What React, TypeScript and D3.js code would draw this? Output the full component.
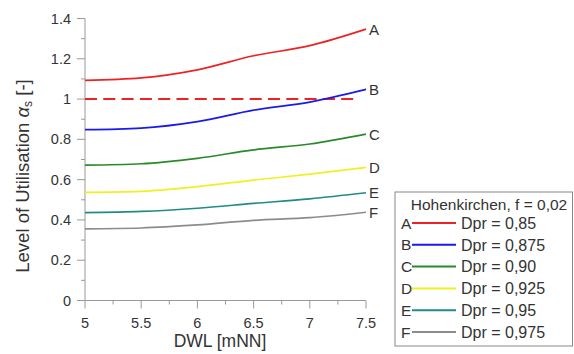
import React from "react";
import * as d3 from "d3";

const dwl = [5, 5.5, 6, 6.5, 7, 7.5];
const seriesA = [1.093, 1.105, 1.145, 1.215, 1.265, 1.347];
const seriesB = [0.848, 0.856, 0.888, 0.945, 0.985, 1.048];
const seriesC = [0.672, 0.679, 0.706, 0.748, 0.777, 0.826];
const seriesD = [0.537, 0.542, 0.565, 0.598, 0.627, 0.661];
const seriesE = [0.436, 0.442, 0.458, 0.482, 0.505, 0.535];
const seriesF = [0.356, 0.36, 0.375, 0.398, 0.411, 0.438];
const letters = ["A", "B", "C", "D", "E", "F"];
const dprLabels = ["0,85", "0,875", "0,90", "0,925", "0,95", "0,975"];
const colors = ["#ee2222", "#1a1aee", "#2a8a2a", "#f0f020", "#238b85", "#8c8c8c"];
const refLine = { value: 1.0, x0: 5, x1: 7.42 };
const xTicks = [5, 5.5, 6, 6.5, 7, 7.5];
const yTicks = [0, 0.2, 0.4, 0.6, 0.8, 1, 1.2, 1.4];
const legendTitle = "Hohenkirchen, f = 0,02";

const W = 574;
const H = 354;
const FONT = "'Liberation Sans', Arial, sans-serif";
const TXT = "#333";
const AX = "#999";

export default function App() {
  const x = d3.scaleLinear().domain([5, 7.5]).range([85, 366]);
  const y = d3.scaleLinear().domain([0, 1.4]).range([300.5, 18.5]);
  const all = [seriesA, seriesB, seriesC, seriesD, seriesE, seriesF];
  const line = d3
    .line<number>()
    .x((_, i) => x(dwl[i]))
    .y((d) => y(d))
    .curve(d3.curveMonotoneX);

  const xMinor = d3.range(5, 7.5001, 0.25);
  const yMinor = d3.range(0, 1.4001, 0.1);

  const legX = 395;
  const legY = 192;
  const rowY = (i: number) => 223 + i * 21.8;

  return (
    <svg
      width={W}
      height={H}
      style={{ position: "absolute", left: 0, top: 0, background: "#fff" }}
      fontFamily={FONT}
    >
      <rect width={W} height={H} fill="#fff" />
      {/* axes */}
      <line x1={85} x2={85} y1={y(1.4)} y2={y(0)} stroke={AX} strokeWidth={1} />
      <line x1={85} x2={366} y1={y(0)} y2={y(0)} stroke={AX} strokeWidth={1} />
      {yMinor.map((v, i) => (
        <line
          key={"ym" + i}
          x1={85}
          x2={i % 2 === 0 ? 77 : 81}
          y1={y(v)}
          y2={y(v)}
          stroke={AX}
        />
      ))}
      {xMinor.map((v, i) => (
        <line
          key={"xm" + i}
          x1={x(v)}
          x2={x(v)}
          y1={y(0)}
          y2={y(0) + (i % 2 === 0 ? 8 : 4)}
          stroke={AX}
        />
      ))}
      {yTicks.map((v) => (
        <text
          key={"yt" + v}
          x={71}
          y={y(v)}
          dy="0.35em"
          textAnchor="end"
          fontSize={14.5}
          fill={TXT}
        >
          {String(v)}
        </text>
      ))}
      {xTicks.map((v) => (
        <text
          key={"xt" + v}
          x={x(v)}
          y={328}
          textAnchor="middle"
          fontSize={14.5}
          fill={TXT}
        >
          {String(v)}
        </text>
      ))}
      <text
        x={220}
        y={347}
        textAnchor="middle"
        fontSize={17.5}
        fill={TXT}
      >
        DWL [mNN]
      </text>
      <text
        transform="translate(29,176) rotate(-90)"
        textAnchor="middle"
        fontSize={18.5}
        fill={TXT}
      >
        Level of Utilisation{" "}
        <tspan fontStyle="italic">α</tspan>
        <tspan fontSize={12} dy={3}>s</tspan>
        <tspan dy={-3}> [-]</tspan>
      </text>
      {/* reference line */}
      <line
        x1={x(refLine.x0)}
        x2={x(refLine.x1)}
        y1={y(refLine.value)}
        y2={y(refLine.value)}
        stroke="#ee2222"
        strokeWidth={2}
        strokeDasharray="12,6.3"
      />
      {/* series */}
      {all.map((s, i) => (
        <path
          key={"s" + i}
          d={line(s) || ""}
          fill="none"
          stroke={colors[i]}
          strokeWidth={1.7}
        />
      ))}
      {all.map((s, i) => (
        <text
          key={"l" + i}
          x={369}
          y={y(s[s.length - 1])}
          dy="0.38em"
          fontSize={15}
          fill={TXT}
        >
          {letters[i]}
        </text>
      ))}
      {/* legend */}
      <rect
        x={legX}
        y={legY}
        width={W - legX - 1.5}
        height={154}
        fill="#fff"
        stroke="#888"
        strokeWidth={1}
      />
      <text x={489} y={209.5} textAnchor="middle" fontSize={15.5} fill={TXT}>
        {legendTitle}
      </text>
      {letters.map((l, i) => (
        <g key={"lg" + i}>
          <text x={401} y={rowY(i)} dy="0.36em" fontSize={15.5} fill={TXT}>
            {l}
          </text>
          <line
            x1={412}
            x2={456}
            y1={rowY(i)}
            y2={rowY(i)}
            stroke={colors[i]}
            strokeWidth={2}
          />
          <text x={461} y={rowY(i)} dy="0.36em" fontSize={16} fill={TXT}>
            {"Dpr = " + dprLabels[i]}
          </text>
        </g>
      ))}
    </svg>
  );
}
